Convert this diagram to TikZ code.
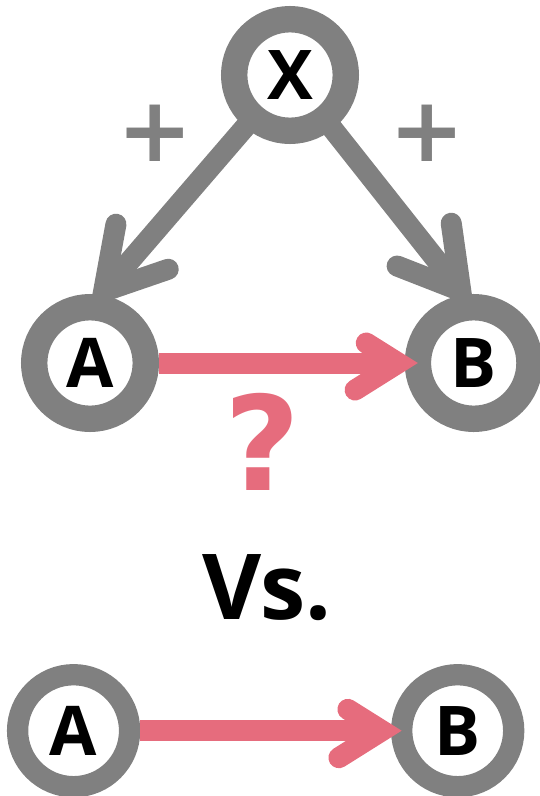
\documentclass[tikz,border=0pt]{standalone}
\usepackage{fontspec}
\setmainfont{Open Sans}
\newfontfamily\signfont{DejaVu Sans}
\usetikzlibrary{calc,decorations.markings}

\definecolor{ringgray}{RGB}{128,128,128}
\definecolor{linkpink}{RGB}{230,108,125}

\begin{document}
\begin{tikzpicture}[x=1pt,y=-1pt,
  var/.style={circle,draw=ringgray,fill=white,line width=26.4pt,minimum size=111.6pt,
    inner sep=0pt,outer sep=0pt,font=\bfseries\fontsize{68.6}{68.6}\selectfont},
  small var/.style={var,line width=21.3pt,minimum size=112pt},
  % thick shaft with an open chevron head at the end
  cause/.style={draw=ringgray,line width=21pt,postaction={decorate},
    decoration={markings,mark=at position 1 with
      {\draw[ringgray,line width=21pt,line cap=round] (-59pt,34.5pt) -- (0pt,0pt) -- (-59pt,-34.5pt);}}},
  link/.style={draw=linkpink,line width=21pt,postaction={decorate},
    decoration={markings,mark=at position 1 with
      {\draw[linkpink,line width=21pt,line cap=round] (-43pt,27pt) -- (0pt,0pt) -- (-43pt,-27pt);}}},
  sign/.style={text=ringgray,inner sep=0pt,font=\signfont\bfseries\fontsize{90}{90}\selectfont},
  ask/.style={text=linkpink,inner sep=0pt,font=\signfont\bfseries\fontsize{131}{131}\selectfont},
  title/.style={inner sep=0pt,font=\bfseries\fontsize{91}{91}\selectfont}]
\useasboundingbox (0,0) rectangle (539,796);

% confounded pair
\node[var] (x) at (290,75) {X};
\node[var] (a) at (90,363) {A};
\node[var] (b) at (473.7,363) {B};
\draw[cause] (x) -- ($(a.north)!20.8pt!(x)$);
\draw[cause] (x) -- ($(b.north)!20.8pt!(x)$);
\node[sign] (pa) at (155,133) {+};
\node[sign] (pb) at (427,133) {+};
\draw[link,shorten <=13.2pt] (a) -- ([xshift=-19.8pt]b.west);
\node[ask] (q) at (262,442) {?};

\node[title] (vs) at (267,587.5) {Vs.};

% plain pair
\node[small var] (a2) at (73.6,730.7) {A};
\node[small var] (b2) at (457.7,730.7) {B};
\draw[link,shorten <=10.6pt] (a2) -- ([xshift=-19.8pt]b2.west);
\end{tikzpicture}
\end{document}
